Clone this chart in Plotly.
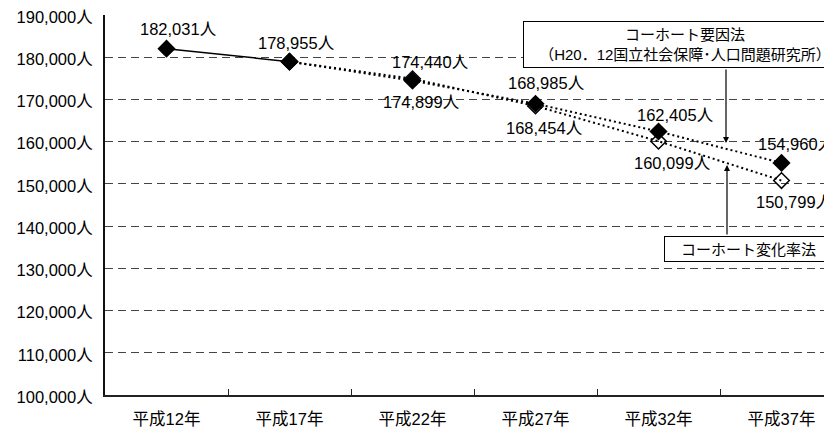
import plotly.graph_objects as go

categories = ["平成12年", "平成17年", "平成22年", "平成27年", "平成32年", "平成37年"]
yoin = [182031, 178955, 174440, 168985, 162405, 154960]      # コーホート要因法
henka = [182031, 178955, 174899, 168454, 160099, 150799]     # コーホート変化率法
y_ticks = list(range(100000, 190001, 10000))

FONT = "Liberation Sans, Arial, Noto Sans CJK JP"
OFF = 8                      # page body margin offset
W, H = 832 - OFF, 430 - OFF
ML, MR, MT, MB = 105 - OFF, 0, 15 - OFF, 35
PW, PH = W - ML - MR, H - MT - MB
CAT_PX = 123.0

def px(xp):   # page x -> paper
    return (xp - OFF - ML) / PW

def py(yp):   # page y -> paper
    return (H - MB - (yp - OFF)) / PH

fig = go.Figure()

# actual (solid) segment
fig.add_trace(go.Scatter(x=categories[:2], y=yoin[:2], mode="lines+markers",
                         line=dict(color="black", width=1.5),
                         marker=dict(symbol="diamond", size=14, color="black"),
                         showlegend=False, hoverinfo="skip"))
# cohort change-rate (hollow)
fig.add_trace(go.Scatter(x=categories[1:], y=henka[1:], mode="lines+markers",
                         line=dict(color="black", width=2, dash="2px,3px"),
                         marker=dict(symbol="diamond-open", size=12, color="black",
                                     line=dict(width=1.5)),
                         showlegend=False, hoverinfo="skip"))
# cohort factor (filled)
fig.add_trace(go.Scatter(x=categories[1:], y=yoin[1:], mode="lines+markers",
                         line=dict(color="black", width=2, dash="2px,3px"),
                         marker=dict(symbol="diamond", size=14, color="black"),
                         showlegend=False, hoverinfo="skip"))

ann = []
yoin_off = [(12, 20), (7, 19), (18, 19), (11, 21), (17, 17), (15, 19)]
henka_off = [None, None, (9, -23), (9, -22), (14, -22), (13, -21)]
for i, c in enumerate(categories):
    dx, dy = yoin_off[i]
    ann.append(dict(x=c, y=yoin[i], xref="x", yref="y", text=f"{yoin[i]:,}人",
                    showarrow=False, xshift=dx, yshift=dy,
                    font=dict(family=FONT, size=16.5, color="black")))
    if henka_off[i] is not None:
        dx, dy = henka_off[i]
        ann.append(dict(x=c, y=henka[i], xref="x", yref="y", text=f"{henka[i]:,}人",
                        showarrow=False, xshift=dx, yshift=dy,
                        font=dict(family=FONT, size=16.5, color="black")))

# callout boxes
ann.append(dict(x=px(685), y=py(44.5), xref="paper", yref="paper",
                text="コーホート要因法<br>（H20．12国立社会保障･人口問題研究所）",
                showarrow=False, xanchor="center", yanchor="middle",
                width=314, height=37, borderpad=4, bordercolor="black", borderwidth=1,
                bgcolor="white", font=dict(family=FONT, size=15, color="black")))
ann.append(dict(x=px(748), y=py(249), xref="paper", yref="paper",
                text="コーホート変化率法", showarrow=False, xanchor="center", yanchor="middle",
                width=161, height=18, borderpad=3, bordercolor="black", borderwidth=1,
                bgcolor="white", font=dict(family=FONT, size=15, color="black")))
# arrows
ann.append(dict(x=px(726), y=py(143), xref="paper", yref="paper", text="",
                showarrow=True, ax=0, ay=68 - 143, arrowhead=2, arrowsize=1,
                arrowwidth=1.2, arrowcolor="black"))
ann.append(dict(x=px(727), y=py(165), xref="paper", yref="paper", text="",
                showarrow=True, ax=0, ay=236 - 165, arrowhead=2, arrowsize=1,
                arrowwidth=1.2, arrowcolor="black"))

fig.update_layout(
    width=W, height=H,
    margin=dict(l=ML, r=MR, t=MT, b=MB, autoexpand=False),
    paper_bgcolor="white", plot_bgcolor="white",
    font=dict(family=FONT, size=16, color="black"),
    annotations=ann,
    xaxis=dict(type="category", categoryorder="array", categoryarray=categories,
               range=[-0.5, -0.5 + PW / CAT_PX], showgrid=False, automargin=False,
               showline=True, linecolor="#222", linewidth=2,
               ticks="inside", tickson="boundaries", ticklen=6, tickcolor="#222",
               ticklabelstandoff=8, ticklabeloverflow="allow",
               tickfont=dict(family=FONT, size=16.5, color="black")),
    yaxis=dict(range=[100000, 190000.5], tickvals=y_ticks, automargin=False,
               ticktext=[f"{v:,}人" for v in y_ticks],
               showgrid=True, gridcolor="#444", gridwidth=1, griddash="8px,5px",
               showline=True, linecolor="#111", linewidth=2,
               ticks="", ticklabelstandoff=7, ticklabelshift=2, zeroline=False,
               ticklabeloverflow="allow",
               tickfont=dict(family=FONT, size=16.5, color="black")),
)

fig.write_html("out.html")
